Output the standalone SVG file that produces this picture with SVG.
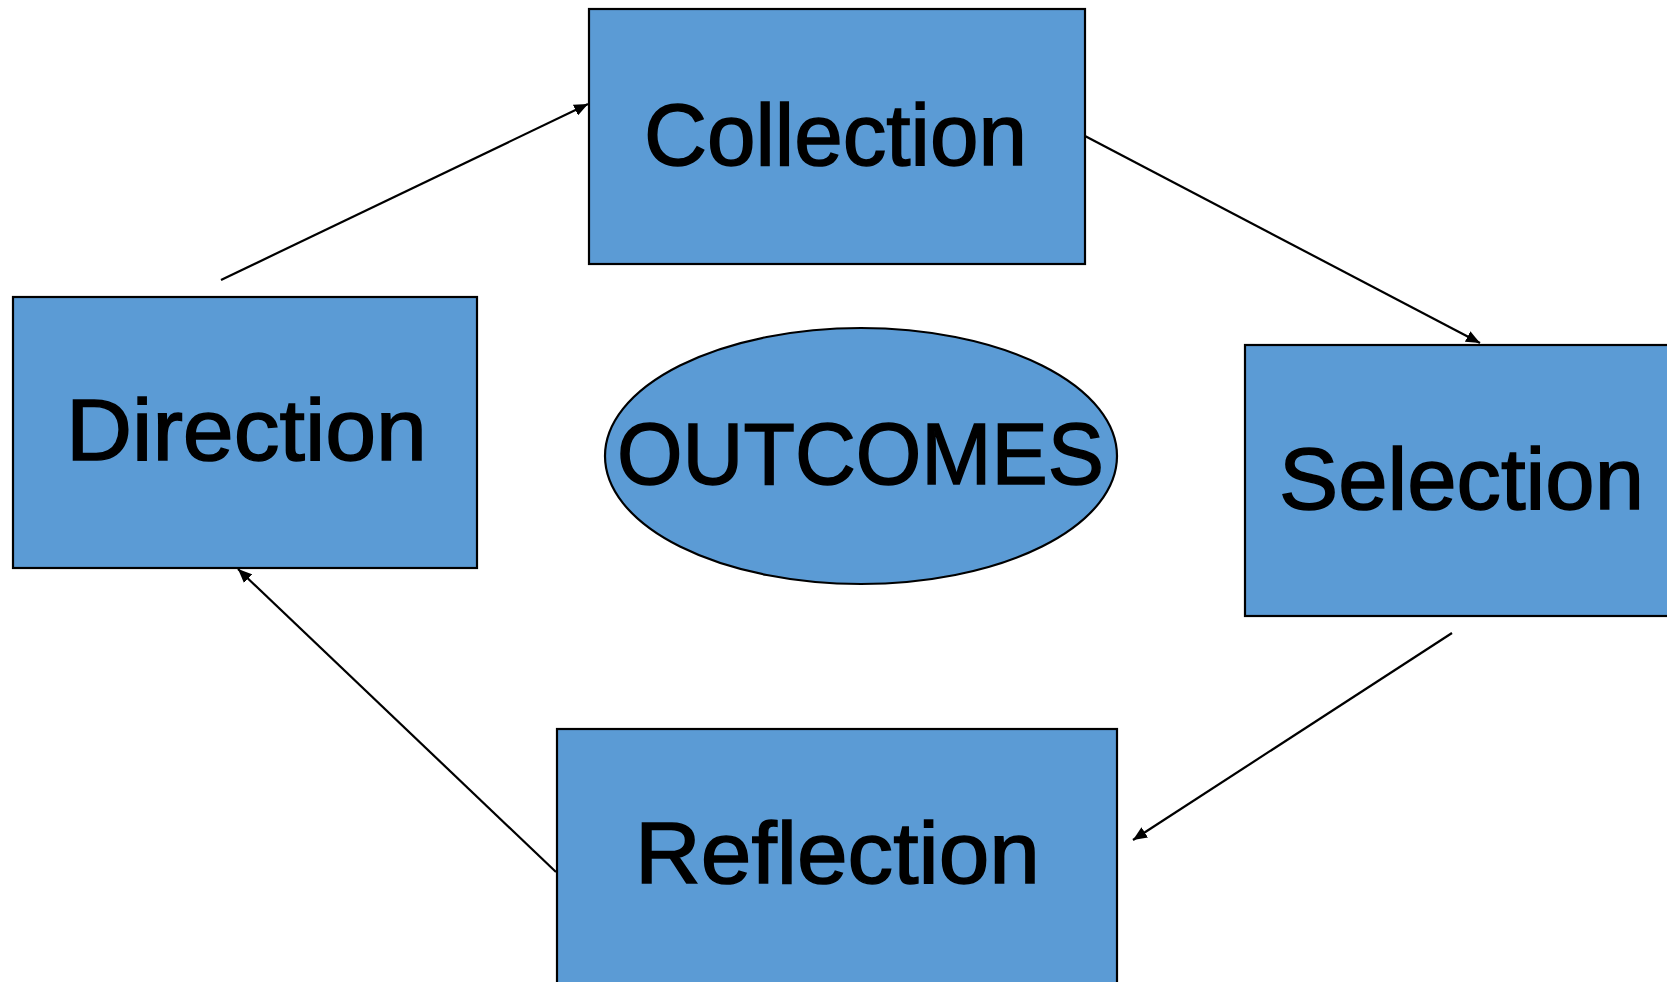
<svg xmlns="http://www.w3.org/2000/svg" width="1667" height="982" viewBox="0 0 1667 982">
<style>
.box{fill:#5B9BD5;stroke:#000;stroke-width:2.2}
.lbl{font-family:"Liberation Sans",Arial,sans-serif;font-size:87px;fill:#000;stroke:#000;stroke-width:1.5}
.con{stroke:#000;stroke-width:2.2;fill:none;marker-end:url(#ah)}
</style>
<defs>
<marker id="ah" viewBox="0 0 14 12" refX="14" refY="6" markerWidth="14" markerHeight="12" markerUnits="userSpaceOnUse" orient="auto">
<path d="M0,0 L14,6 L0,12 z" fill="#000"/>
</marker>
</defs>
<rect width="1667" height="982" fill="#fff"/>
<g id="collection"><rect class="box" x="589" y="9" width="496" height="255"/><text class="lbl" x="644" y="165" textLength="383" lengthAdjust="spacingAndGlyphs">Collection</text></g>
<g id="direction"><rect class="box" x="13" y="297" width="464" height="271"/><text class="lbl" x="66" y="460" textLength="361" lengthAdjust="spacingAndGlyphs">Direction</text></g>
<g id="selection"><rect class="box" x="1245" y="345" width="430" height="271"/><text class="lbl" x="1279" y="509" textLength="365" lengthAdjust="spacingAndGlyphs">Selection</text></g>
<g id="reflection"><rect class="box" x="557" y="729" width="560" height="270"/><text class="lbl" x="635" y="883" textLength="405" lengthAdjust="spacingAndGlyphs">Reflection</text></g>
<g id="outcomes"><ellipse class="box" cx="861" cy="456" rx="256" ry="128"/><text class="lbl" x="617" y="484" textLength="487" lengthAdjust="spacingAndGlyphs">OUTCOMES</text></g>
<g id="connectors">
<line class="con" x1="221" y1="280" x2="588" y2="104"/>
<line class="con" x1="1085" y1="136" x2="1480" y2="343"/>
<line class="con" x1="1452" y1="633" x2="1133" y2="840"/>
<line class="con" x1="556" y1="872" x2="238" y2="569"/>
</g>
</svg>
